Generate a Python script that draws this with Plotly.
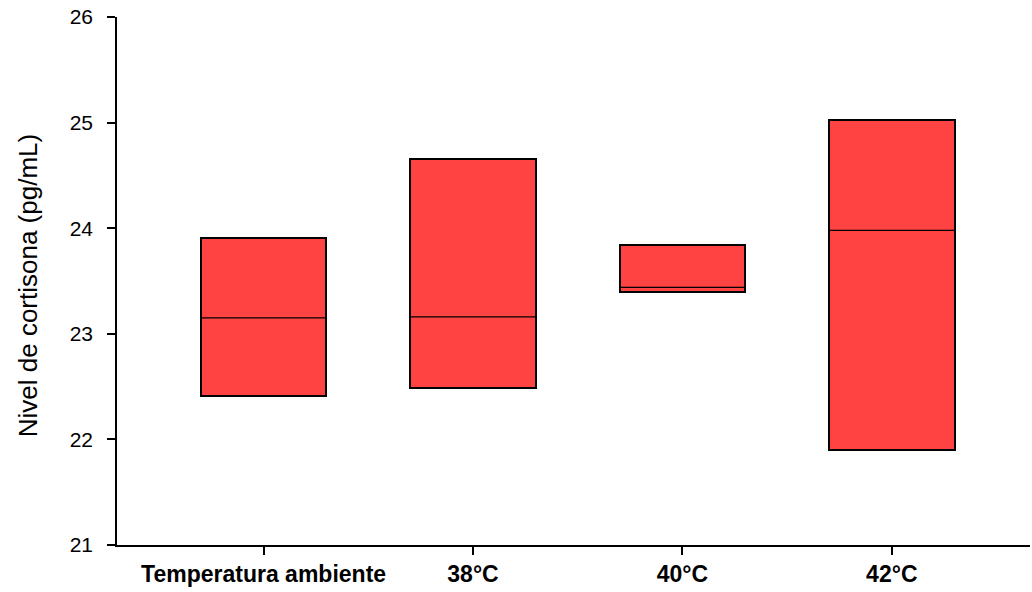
import plotly.graph_objects as go

# Cortisone levels by temperature treatment (box summary: lower quartile, median, upper quartile)
categories = ["Temperatura ambiente", "38°C", "40°C", "42°C"]
q1 = [22.41, 22.49, 23.40, 21.90]
median = [23.15, 23.16, 23.44, 23.98]
q3 = [23.91, 24.66, 23.84, 25.02]

positions = list(range(len(categories)))
box_width = 0.6
fill_color = "#FF4242"
font_family = "Arial, Liberation Sans, sans-serif"

fig = go.Figure()

# Boxes: from lower to upper quartile
fig.add_trace(go.Bar(
    x=positions,
    base=q1,
    y=[hi - lo for lo, hi in zip(q1, q3)],
    width=box_width,
    marker=dict(color=fill_color, line=dict(color="black", width=2)),
    showlegend=False,
    hoverinfo="skip",
))

# Median lines across each box
mx, my = [], []
for p, m in zip(positions, median):
    mx += [p - box_width / 2, p + box_width / 2, None]
    my += [m, m, None]
fig.add_trace(go.Scatter(
    x=mx, y=my, mode="lines",
    line=dict(color="black", width=1.2),
    showlegend=False, hoverinfo="skip",
))

fig.update_layout(
    width=1032, height=592,
    margin=dict(l=117, r=2, t=17, b=47),
    paper_bgcolor="white", plot_bgcolor="white",
    font=dict(family=font_family, color="black"),
    bargap=0,
)

fig.update_xaxes(
    range=[-0.70, 3.66],
    tickvals=positions,
    ticktext=[f"<b>{c}</b>" for c in categories],
    tickfont=dict(size=23, family=font_family, color="black"),
    ticks="outside", ticklen=8, tickwidth=1.5, tickcolor="black",
    showline=True, linecolor="black", linewidth=1.5,
    showgrid=False, zeroline=False,
)

fig.update_yaxes(
    range=[21, 26],
    tickvals=[21, 22, 23, 24, 25, 26],
    tickfont=dict(size=21, family=font_family, color="black"),
    ticks="outside", ticklen=8, tickwidth=1.5, tickcolor="black",
    ticklabelstandoff=10,
    showline=True, linecolor="black", linewidth=1.5,
    showgrid=False, zeroline=False,
)

# Vertical axis title
fig.add_annotation(
    text="Nivel de cortisona (pg/mL)",
    textangle=-90,
    xref="paper", yref="paper",
    x=(28 - 117) / 913, y=0.49,
    xanchor="center", yanchor="middle",
    showarrow=False,
    font=dict(size=26, family=font_family, color="black"),
)

fig.write_html("out.html")
